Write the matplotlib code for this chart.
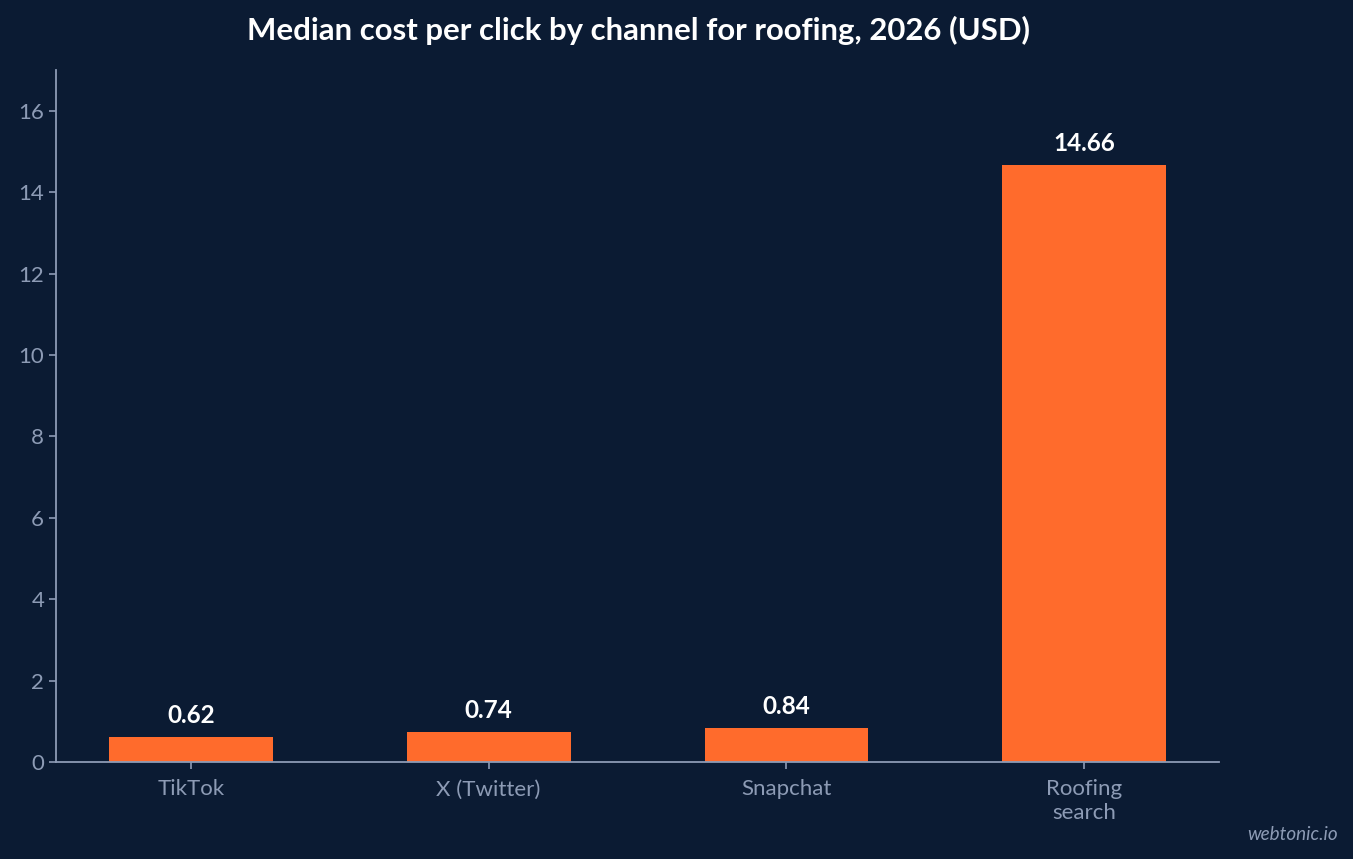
import matplotlib.pyplot as plt

channels = ['TikTok', 'X (Twitter)', 'Snapchat', 'Roofing\nsearch']
cpc = [0.62, 0.74, 0.84, 14.66]

bg = '#0b1b33'
bar_color = '#ff6b2c'
muted = '#8d9bb5'

plt.rcParams['font.family'] = ['Lato', 'DejaVu Sans']

fig = plt.figure(figsize=(13.53, 8.59), dpi=100, facecolor=bg)
ax = fig.add_axes([0.0414, 0.1129, 0.8596, 0.8056], facecolor=bg)

x = range(len(channels))
bars = ax.bar(x, cpc, width=0.55, color=bar_color)
for b, v in zip(bars, cpc):
    ax.text(b.get_x() + b.get_width() / 2, v + 0.25, f'{v:.2f}', ha='center', va='bottom',
            color='white', fontsize=17.5, fontweight='bold')

ax.set_ylim(0, 17)
ax.set_yticks(range(0, 17, 2))
ax.set_xticks(list(x))
ax.set_xticklabels(channels, linespacing=1.2)
ax.tick_params(colors=muted, labelsize=16, length=5, width=1.2)
ax.tick_params(axis='x', pad=7.5)
for s in ['top', 'right']:
    ax.spines[s].set_visible(False)
for s in ['left', 'bottom']:
    ax.spines[s].set_color(muted)
    ax.spines[s].set_linewidth(1.3)

fig.text(0.4716, 0.965, 'Median cost per click by channel for roofing, 2026 (USD)', ha='center', va='center',
         color='white', fontsize=22.4, fontweight='bold')
fig.text(0.989, 0.028, 'webtonic.io', ha='right', va='center', color=muted, fontsize=13.6, style='italic')

fig.savefig('out.png', dpi=100, facecolor=bg)
